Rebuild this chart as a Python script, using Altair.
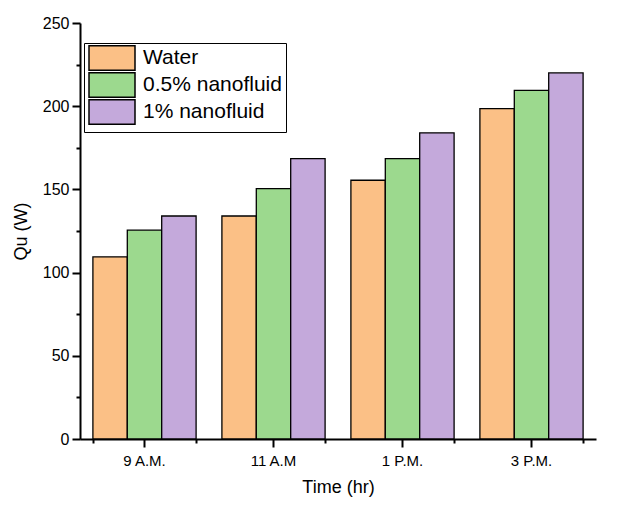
import pandas as pd
import altair as alt

# Data
times = ["9 A.M.", "11 A.M", "1 P.M.", "3 P.M."]
series = ["Water", "0.5% nanofluid", "1% nanofluid"]
water = [109.5, 134, 155.5, 198.5]
nano_05 = [125.5, 150.5, 168.5, 209.5]
nano_1 = [134, 168.5, 184, 220]
colors = ["#FBC086", "#9CD98E", "#C4A9DB"]

rows = []
for name, vals in zip(series, [water, nano_05, nano_1]):
    for t, v in zip(times, vals):
        rows.append({"time": t, "series": name, "qu": v})
df = pd.DataFrame(rows)

FONT = "Liberation Sans"

x_scale = alt.Scale(paddingInner=0.2, paddingOuter=0.1)
y_scale = alt.Scale(domain=[0, 250], nice=False)

bars = alt.Chart(df).mark_bar(stroke="black", strokeWidth=1.3).encode(
    x=alt.X("time:N", sort=times, scale=x_scale,
            axis=alt.Axis(title="Time (hr)", labelAngle=0, ticks=True, tickSize=8,
                          tickColor="black", tickWidth=2,
                          labelFontSize=15, titleFontSize=18,
                          labelPadding=6, titlePadding=10)),
    xOffset=alt.XOffset("series:N", sort=series,
                        scale=alt.Scale(paddingInner=0, paddingOuter=0)),
    y=alt.Y("qu:Q", scale=y_scale,
            axis=alt.Axis(title="Qu (W)", values=list(range(0, 251, 50)),
                          ticks=True, tickSize=8, tickColor="black", tickWidth=2,
                          labelFontSize=16, titleFontSize=18,
                          labelPadding=3, titlePadding=12, grid=False)),
    color=alt.Color("series:N", sort=series,
                    scale=alt.Scale(domain=series, range=colors),
                    legend=alt.Legend(title=None, orient="none", legendX=4, legendY=20,
                                      symbolType="M-1,-1.225H3.6V1.225H-1Z",
                                      symbolSize=400, symbolStrokeColor="black",
                                      symbolStrokeWidth=1.5, symbolOpacity=1,
                                      labelFontSize=21, labelOffset=33, labelColor="black",
                                      labelFont=FONT, rowPadding=-6, padding=4,
                                      strokeColor="black", fillColor="white")),
)

# invisible layer that carries the minor ticks
minor = alt.Chart(df).mark_bar(opacity=0).encode(
    x=alt.X("time:N", sort=times, scale=x_scale,
            axis=alt.Axis(orient="bottom", tickBand="extent", ticks=True, tickSize=4,
                          tickColor="black", tickWidth=2,
                          labels=False, domain=False, title=None)),
    y=alt.Y("qu:Q", scale=y_scale,
            axis=alt.Axis(orient="left", values=list(range(25, 250, 50)),
                          ticks=True, tickSize=4, tickColor="black", tickWidth=2,
                          labels=False, domain=False, title=None, grid=False)),
)

chart = alt.layer(bars, minor).resolve_axis(x="independent", y="independent").properties(
    width=516, height=416,
    autosize=alt.AutoSizeParams(type="none"),
    padding={"left": 72, "top": 15, "right": 20, "bottom": 60},
).configure_view(
    strokeWidth=0
).configure_axis(
    domainColor="black", domainWidth=2,
    labelColor="black", titleColor="black", labelFont=FONT, titleFont=FONT,
    titleFontWeight="normal"
)

chart.save("out.html", embed_options={"renderer": "svg", "actions": False})
